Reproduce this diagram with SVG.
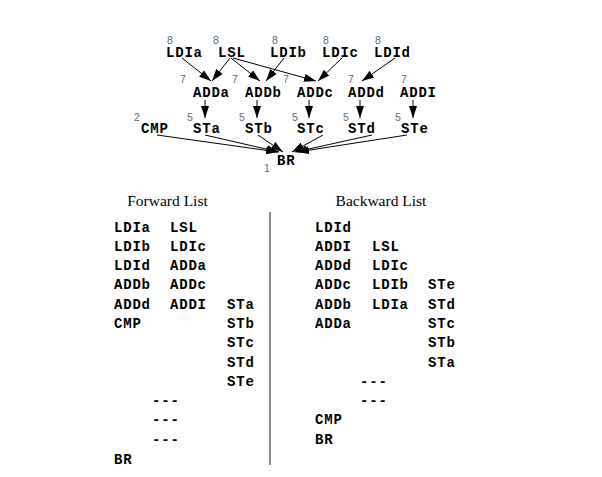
<svg xmlns="http://www.w3.org/2000/svg" width="602" height="477" viewBox="0 0 602 477">
<defs>
<marker id="ah" markerWidth="12" markerHeight="8" refX="12" refY="4" orient="auto" markerUnits="userSpaceOnUse">
<path d="M0,0 L12,4 L0,8 Z" fill="#000"/>
</marker>
<style>
.n{font-family:"Liberation Mono","Courier New",monospace;font-weight:bold;font-size:14px;letter-spacing:0.8px;fill:#000}
.w{font-family:"Liberation Sans",Arial,sans-serif;font-size:10.5px;fill:#5c6878}
.t{font-family:"Liberation Serif","Times New Roman",serif;font-size:15.5px;fill:#000}
.e{stroke:#000;stroke-width:1;fill:none;marker-end:url(#ah)}
</style>
</defs>
<rect width="602" height="477" fill="#fff"/>
<g id="connectors">
<line class="e" x1="182" y1="58" x2="211" y2="81"/>
<line class="e" x1="230" y1="58" x2="212" y2="81"/>
<line class="e" x1="231" y1="58" x2="260" y2="81"/>
<line class="e" x1="233" y1="58" x2="316" y2="81"/>
<line class="e" x1="284" y1="58" x2="266" y2="81"/>
<line class="e" x1="342" y1="58" x2="318" y2="81"/>
<line class="e" x1="395" y1="58" x2="362" y2="81"/>
<line class="e" x1="205" y1="100" x2="205" y2="118"/>
<line class="e" x1="257" y1="100" x2="257" y2="118"/>
<line class="e" x1="309" y1="100" x2="309" y2="118"/>
<line class="e" x1="360" y1="100" x2="360" y2="118"/>
<line class="e" x1="413" y1="100" x2="413" y2="118"/>
<line class="e" x1="157" y1="135" x2="278" y2="152"/>
<line class="e" x1="205" y1="135" x2="279" y2="152"/>
<line class="e" x1="258" y1="135" x2="283" y2="152"/>
<line class="e" x1="323" y1="135" x2="292" y2="152"/>
<line class="e" x1="372" y1="135" x2="295" y2="152"/>
<line class="e" x1="407" y1="135" x2="297" y2="152"/>
</g>
<g id="LDIa"><text class="w" x="167" y="44">8</text><text class="n" x="166" y="57">LDIa</text></g>
<g id="LSL"><text class="w" x="213" y="44">8</text><text class="n" x="218" y="57">LSL</text></g>
<g id="LDIb"><text class="w" x="272" y="44">8</text><text class="n" x="270" y="57">LDIb</text></g>
<g id="LDIc"><text class="w" x="323" y="44">8</text><text class="n" x="322" y="57">LDIc</text></g>
<g id="LDId"><text class="w" x="375" y="44">8</text><text class="n" x="374" y="57">LDId</text></g>
<g id="ADDa"><text class="w" x="180" y="83">7</text><text class="n" x="193" y="97">ADDa</text></g>
<g id="ADDb"><text class="w" x="232" y="83">7</text><text class="n" x="245" y="97">ADDb</text></g>
<g id="ADDc"><text class="w" x="283" y="83">7</text><text class="n" x="297" y="97">ADDc</text></g>
<g id="ADDd"><text class="w" x="348" y="83">7</text><text class="n" x="348" y="97">ADDd</text></g>
<g id="ADDI"><text class="w" x="401" y="83">7</text><text class="n" x="400" y="97">ADDI</text></g>
<g id="CMP"><text class="w" x="134" y="121">2</text><text class="n" x="141" y="133">CMP</text></g>
<g id="STa"><text class="w" x="187" y="121">5</text><text class="n" x="193" y="133">STa</text></g>
<g id="STb"><text class="w" x="239" y="121">5</text><text class="n" x="245" y="133">STb</text></g>
<g id="STc"><text class="w" x="292" y="121">5</text><text class="n" x="297" y="133">STc</text></g>
<g id="STd"><text class="w" x="343" y="121">5</text><text class="n" x="348" y="133">STd</text></g>
<g id="STe"><text class="w" x="395" y="121">5</text><text class="n" x="401" y="133">STe</text></g>
<g id="BR"><text class="w" x="264" y="172">1</text><text class="n" x="277" y="165">BR</text></g>
<g id="forward-list">
<text class="t" x="167.5" y="206" text-anchor="middle">Forward List</text>
<text class="n" x="114" y="232">LDIa</text><text class="n" x="170" y="232">LSL</text>
<text class="n" x="114" y="251">LDIb</text><text class="n" x="170" y="251">LDIc</text>
<text class="n" x="114" y="270">LDId</text><text class="n" x="170" y="270">ADDa</text>
<text class="n" x="114" y="289">ADDb</text><text class="n" x="170" y="289">ADDc</text>
<text class="n" x="114" y="309">ADDd</text><text class="n" x="170" y="309">ADDI</text><text class="n" x="227" y="309">STa</text>
<text class="n" x="114" y="328">CMP</text><text class="n" x="227" y="328">STb</text>
<text class="n" x="227" y="347">STc</text>
<text class="n" x="227" y="367">STd</text>
<text class="n" x="227" y="386">STe</text>
<text class="n" x="152" y="405">---</text>
<text class="n" x="152" y="424">---</text>
<text class="n" x="152" y="444">---</text>
<text class="n" x="114" y="464">BR</text>
</g>
<line x1="270" y1="212" x2="270" y2="465" stroke="#444" stroke-width="1.2"/>
<g id="backward-list">
<text class="t" x="381" y="206" text-anchor="middle">Backward List</text>
<text class="n" x="315" y="232">LDId</text>
<text class="n" x="315" y="251">ADDI</text><text class="n" x="372" y="251">LSL</text>
<text class="n" x="315" y="270">ADDd</text><text class="n" x="372" y="270">LDIc</text>
<text class="n" x="315" y="289">ADDc</text><text class="n" x="372" y="289">LDIb</text><text class="n" x="428" y="289">STe</text>
<text class="n" x="315" y="309">ADDb</text><text class="n" x="372" y="309">LDIa</text><text class="n" x="428" y="309">STd</text>
<text class="n" x="315" y="328">ADDa</text><text class="n" x="428" y="328">STc</text>
<text class="n" x="428" y="347">STb</text>
<text class="n" x="428" y="367">STa</text>
<text class="n" x="360" y="386">---</text>
<text class="n" x="360" y="405">---</text>
<text class="n" x="315" y="424">CMP</text>
<text class="n" x="315" y="444">BR</text>
</g>
</svg>
